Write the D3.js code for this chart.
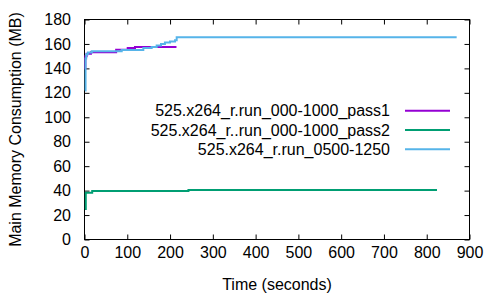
<!DOCTYPE html>
<html>
<head>
<meta charset="utf-8">
<script src="https://cdn.jsdelivr.net/npm/d3@7"></script>
<style>
  body { margin: 0; background: #fff; }
  svg text { font-family: "Liberation Sans", Arial, sans-serif; font-size: 16px; fill: #000; }
</style>
</head>
<body>
<div id="chart"></div>
<script>
// series: time (s) and memory (MB), drawn as step lines
const pass1Time = [0, 2, 5, 15, 74, 101, 118, 215];
const pass1Mem  = [140, 150, 152, 153.2, 155.2, 156.6, 157.6, 157.6];

const pass2Time = [1, 3, 18, 243, 824];
const pass2Mem  = [25, 38.2, 39.6, 40.4, 40.4];

const runTime = [1.5, 2.5, 4, 8, 17, 87, 137.5, 157, 168.7, 178.8, 188, 199.8, 211.6, 215.5, 870];
const runMem  = [122, 148, 151.5, 153, 154, 155, 156.6, 157.6, 158.8, 160, 161.2, 162, 163, 165.5, 165.5];

const seriesNames = [
  "525.x264_r.run_000-1000_pass1",
  "525.x264_r..run_000-1000_pass2",
  "525.x264_r.run_0500-1250"
];
const seriesColors = ["#9400d3", "#009e73", "#56b4e9"];

const xTicks = [0, 100, 200, 300, 400, 500, 600, 700, 800, 900];
const yTicks = [0, 20, 40, 60, 80, 100, 120, 140, 160, 180];

const W = 500, H = 300;
const plotL = 84.5, plotR = 469.5, plotT = 19.5, plotB = 239.5;

const svg = d3.select("#chart")
  .append("svg")
  .attr("width", W)
  .attr("height", H);

const x = d3.scaleLinear().domain([0, 900]).range([plotL, plotR]);
const y = d3.scaleLinear().domain([0, 180]).range([plotB, plotT]);

// axes with inward ticks, mirrored on top and right
svg.append("g")
  .attr("transform", `translate(0,${plotB})`)
  .call(d3.axisBottom(x).tickValues(xTicks).tickSize(-5).tickSizeOuter(0).tickPadding(7))
  .call(g => g.select(".domain").remove());

svg.append("g")
  .attr("transform", `translate(${plotL},0)`)
  .call(d3.axisLeft(y).tickValues(yTicks).tickSize(-5).tickSizeOuter(0).tickPadding(13.5))
  .call(g => g.select(".domain").remove());

svg.append("g")
  .attr("transform", `translate(0,${plotT})`)
  .call(d3.axisTop(x).tickValues(xTicks).tickSize(-5).tickSizeOuter(0).tickFormat(""))
  .call(g => g.select(".domain").remove());

svg.append("g")
  .attr("transform", `translate(${plotR},0)`)
  .call(d3.axisRight(y).tickValues(yTicks).tickSize(-5).tickSizeOuter(0).tickFormat(""))
  .call(g => g.select(".domain").remove());

svg.selectAll("g").attr("font-size", null).attr("font-family", null);
svg.selectAll(".tick line").attr("stroke", "#000");

svg.append("rect")
  .attr("x", plotL)
  .attr("y", plotT)
  .attr("width", plotR - plotL)
  .attr("height", plotB - plotT)
  .attr("fill", "none")
  .attr("stroke", "#000")
  .attr("stroke-width", 1);

// lines
const series = [
  {t: pass1Time, v: pass1Mem},
  {t: pass2Time, v: pass2Mem},
  {t: runTime, v: runMem}
];

const line = d3.line()
  .x(d => x(d[0]))
  .y(d => y(d[1]))
  .curve(d3.curveStepAfter);

series.forEach((s, i) => {
  svg.append("path")
    .datum(d3.zip(s.t, s.v))
    .attr("fill", "none")
    .attr("stroke", seriesColors[i])
    .attr("stroke-width", 2)
    .attr("d", line);
});

// legend
const legendY = [110.7, 130, 149.3];
seriesNames.forEach((name, i) => {
  svg.append("text")
    .attr("x", 390)
    .attr("y", legendY[i])
    .attr("dy", "0.35em")
    .attr("text-anchor", "end")
    .text(name);
  svg.append("line")
    .attr("x1", 405)
    .attr("x2", 450)
    .attr("y1", legendY[i])
    .attr("y2", legendY[i])
    .attr("stroke", seriesColors[i])
    .attr("stroke-width", 2);
});

// axis titles
svg.append("text")
  .attr("x", (plotL + plotR) / 2)
  .attr("y", 290)
  .attr("text-anchor", "middle")
  .text("Time (seconds)");

svg.append("text")
  .attr("transform", "rotate(-90)")
  .attr("x", -(plotT + plotB) / 2)
  .attr("y", 21)
  .attr("text-anchor", "middle")
  .text("Main Memory Consumption (MB)");
</script>
</body>
</html>
